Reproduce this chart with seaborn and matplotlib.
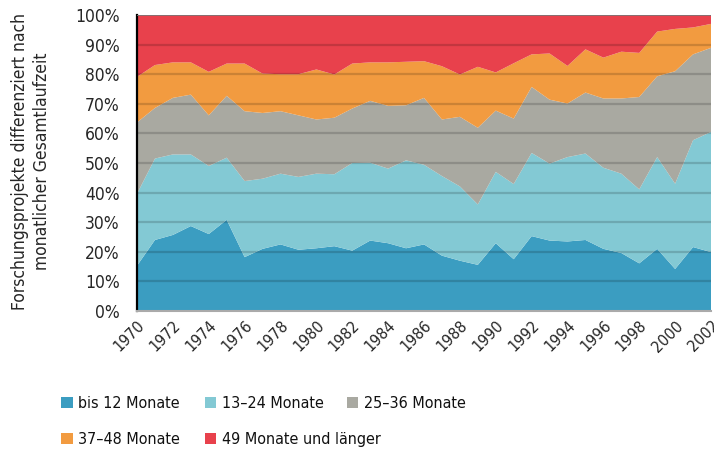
import numpy as np
import pandas as pd
import matplotlib
matplotlib.use("Agg")
import matplotlib.pyplot as plt
from matplotlib.patches import Patch
import seaborn as sns

years = list(range(1970, 2003))
bis_12 = [15.3, 24.0, 25.7, 28.7, 26.0, 30.8, 18.2, 21.0, 22.5, 20.7, 21.2,
          21.9, 20.4, 23.8, 22.9, 21.2, 22.5, 18.7, 17.0, 15.6, 22.9, 17.5,
          25.3, 23.8, 23.5, 24.0, 21.0, 19.6, 16.1, 21.0, 14.2, 21.6, 19.9]
m13_24 = [24.3, 27.5, 27.2, 24.2, 23.0, 21.0, 25.7, 23.7, 23.9, 24.6, 25.2,
          24.3, 29.6, 26.3, 25.2, 29.7, 26.9, 26.9, 25.1, 20.4, 24.1, 25.4,
          28.1, 26.0, 28.5, 29.2, 27.4, 26.8, 25.0, 31.0, 28.8, 36.1, 40.6]
m25_36 = [24.1, 17.1, 19.1, 20.2, 17.1, 20.9, 23.6, 22.2, 21.1, 20.8, 18.3,
          19.1, 18.4, 20.9, 21.2, 18.6, 22.6, 19.1, 23.5, 25.9, 20.7, 22.1,
          22.3, 21.6, 18.1, 20.6, 23.4, 25.4, 31.2, 27.3, 38.0, 29.0, 28.4]
m37_48 = [15.4, 14.5, 12.0, 10.9, 14.7, 10.9, 16.1, 13.3, 12.5, 13.9, 16.9,
          14.6, 15.2, 13.0, 14.7, 14.7, 12.4, 18.0, 14.3, 20.6, 12.9, 18.7,
          11.0, 15.6, 12.7, 14.6, 13.8, 15.8, 14.9, 15.1, 14.3, 9.1, 8.1]
m49_plus = [20.9, 16.9, 16.0, 16.0, 19.2, 16.4, 16.4, 19.8, 20.0, 20.0, 18.4,
            20.1, 16.4, 16.0, 16.0, 15.8, 15.6, 17.3, 20.1, 17.5, 19.4, 16.3,
            13.3, 13.0, 17.2, 11.6, 14.4, 12.4, 12.8, 5.6, 4.7, 4.2, 3.0]
labels = ["bis 12 Monate", "13\u201324 Monate", "25\u201336 Monate",
          "37\u201348 Monate", "49 Monate und länger"]
colors = ["#3b9dc1", "#83c9d4", "#a9a9a1", "#f29b40", "#e8414c"]

df = pd.DataFrame({"Jahr": years, labels[0]: bis_12, labels[1]: m13_24,
                   labels[2]: m25_36, labels[3]: m37_48, labels[4]: m49_plus})

sns.set_style("white")
plt.rcParams['font.family'] = ['DejaVu Sans']
plt.rcParams['font.stretch'] = 'condensed'
plt.rcParams['text.color'] = '#111111'

fig = plt.figure(figsize=(7.14, 4.49), dpi=100)
ax = fig.add_axes([0.1919, 0.3073, 0.8039, 0.6593])

ax.stackplot(df["Jahr"], *[df[l] for l in labels], colors=colors,
             labels=labels, edgecolor="none", linewidth=0)

# gridlines sit on top of the areas
for v in range(10, 100, 10):
    ax.axhline(v, color="black", alpha=0.16, lw=1.6, zorder=3)
ax.axhline(100, color="#777777", lw=1.2, zorder=3)

ax.set_xlim(1970, 2002)
ax.set_ylim(0, 100)
ax.set_xticks(years[::2])
ax.set_xticklabels([str(y) for y in years[::2]], rotation=45, ha="right",
                   rotation_mode="anchor", fontsize=11.5)
ax.set_yticks(range(0, 101, 10))
ax.set_yticklabels([f"{v}%" for v in range(0, 101, 10)], fontsize=12.5)
ax.tick_params(axis="y", direction="out", length=5.5, width=1.5, color="black", pad=7)
ax.tick_params(axis="x", length=0, pad=5)

for s in ["top", "right"]:
    ax.spines[s].set_visible(False)
ax.spines["left"].set_color("black")
ax.spines["left"].set_linewidth(1.6)
ax.spines["bottom"].set_color("#aaaaaa")
ax.spines["bottom"].set_linewidth(1.5)

ax.set_ylabel("Forschungsprojekte differenziert nach\nmonatlicher Gesamtlaufzeit",
              fontsize=12.5, linespacing=1.3)
ax.yaxis.set_label_coords(-0.150, 0.505)

# legend laid out in three columns like the original
handles = [Patch(facecolor=c, edgecolor="none") for c in colors]
columns = [([0, 3], 0.086), ([1, 4], 0.287), ([2], 0.486)]
for idx, x0 in columns:
    fig.legend([handles[i] for i in idx], [labels[i] for i in idx],
               loc="upper left", bbox_to_anchor=(x0, 0.118),
               bbox_transform=fig.transFigure,
               frameon=False, fontsize=11.5, handlelength=0.7, handleheight=0.7,
               handletextpad=0.35, labelspacing=1.3, borderpad=0, borderaxespad=0)

fig.savefig("out.png", dpi=100)
